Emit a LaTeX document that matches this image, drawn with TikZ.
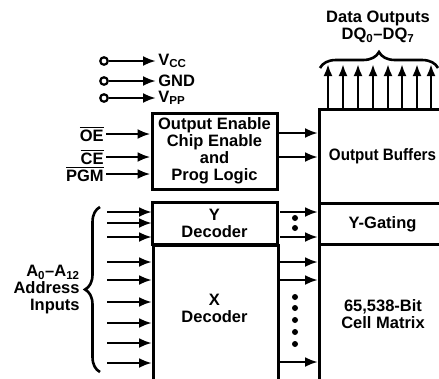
\documentclass[tikz,border=0pt]{standalone}
\usepackage{fontspec}
\usepackage{graphicx}
\setmainfont{Liberation Sans}
\usetikzlibrary{arrows.meta,positioning,decorations.pathreplacing}

% bar over an active-low signal name
\newcommand{\lowsig}[1]{\setbox0\hbox{#1}\rlap{\rule[\dimexpr\ht0+1.6pt\relax]{\wd0}{1.6pt}}\box0}

\begin{document}
\begin{tikzpicture}[->,>={Latex[length=13pt,width=10pt]},x=1pt,y=-1pt,
    line width=2.8pt,font=\fontsize{16.5}{17}\selectfont\bfseries,
    blk/.style={draw,line width=3pt,inner sep=0pt,align=center},
    lbl/.style={inner sep=1pt,align=center},
    pin/.style={draw,circle,fill=white,line width=2.2pt,inner sep=0pt,minimum size=7.5pt},
    dot/.style={fill,circle,inner sep=0pt,minimum size=6pt},
    brc/.style={-,decorate,line width=2.6pt,decoration={brace,amplitude=#1}}]
  \useasboundingbox (0,0) rectangle (439,378);

  % blocks
  \node[blk,minimum width=125pt,minimum height=76pt] (logic) at (214.5,151)
    {Output Enable\\Chip Enable\\and\\Prog Logic};
  \node[blk,minimum width=125pt,minimum height=42pt] (ydec) at (214.5,223) {Y\\Decoder};
  \node[blk,anchor=north west,minimum width=125pt,minimum height=150pt] (xdec) at (152,244) {};
  \node[lbl] (xtxt) at (214.5,308) {X\\Decoder};
  \node[blk,anchor=north west,minimum width=126pt,minimum height=94pt] (buf) at (318,108)
    {\scalebox{0.92}[1]{Output Buffers}};
  \node[blk,anchor=north west,minimum width=126pt,minimum height=41pt] (ygate) at (318,202) {Y-Gating};
  \node[blk,anchor=north west,minimum width=130pt,minimum height=150pt] (cells) at (318,243) {};
  \node[lbl] (ctxt) at (383,314) {65,538-Bit\\Cell Matrix};

  % supply pins
  \foreach \n/\y/\t in {vcc/61/V\textsubscript{CC},gnd/81/GND,vpp/98/V\textsubscript{PP}}{
    \node[pin] (\n p) at (104,\y) {};
    \node[lbl,anchor=west] (\n) at (156,\y) {\t};
    \draw (\n p) -- (\n);
  }

  % control inputs
  \node[lbl,anchor=east] (oe) at (106,134) {\lowsig{OE}};
  \node[lbl,anchor=east] (ce) at (106,157) {\lowsig{CE}};
  \node[lbl,anchor=east] (pgm) at (106,174) {\lowsig{PGM}};
  \foreach \s in {oe,ce,pgm}
    \draw (\s) -- (\s -| logic.west);
  \draw ([yshift=18pt]logic.east) -- ([yshift=18pt]logic.east -| buf.west);
  \draw ([yshift=-6pt]logic.east) -- ([yshift=-6pt]logic.east -| buf.west);

  % address inputs
  \foreach \y [count=\i] in {212,223,237,262,280,302,323,343,363}{
    \coordinate (a\i) at (107,\y);
    \draw (a\i) -- (a\i -| xdec.west);
  }
  \coordinate (ab1) at (100,372);
  \coordinate (ab2) at (100,207);
  \draw[brc=15pt] (ab1) -- (ab2);
  \node[lbl,anchor=east,align=right] (addr) at (82,290)
    {A\textsubscript{0}--A\textsubscript{12}\\Address\\Inputs};

  % decoder outputs
  \foreach \y [count=\i] in {212,237,262,280,362}{
    \coordinate (d\i) at (xdec.east |- 0,\y);
    \draw (d\i) -- (d\i -| cells.west);
  }
  \foreach \y [count=\i] in {218,228,297,308,320,332,344}
    \node[dot] (k\i) at (295,\y) {};

  % data outputs
  \foreach \x [count=\i] in {328,343,358,373,388,402,417,431}{
    \coordinate (q\i) at (\x,64);
    \draw[>={Latex[length=12pt,width=9pt]}] (q\i |- buf.north) -- (q\i);
  }
  \coordinate (db1) at (320,68);
  \coordinate (db2) at (438,68);
  \draw[brc=16pt] (db1) -- (db2);
  \node[lbl] (dout) at (378,27) {Data Outputs\\DQ\textsubscript{0}--DQ\textsubscript{7}};
\end{tikzpicture}
\end{document}
